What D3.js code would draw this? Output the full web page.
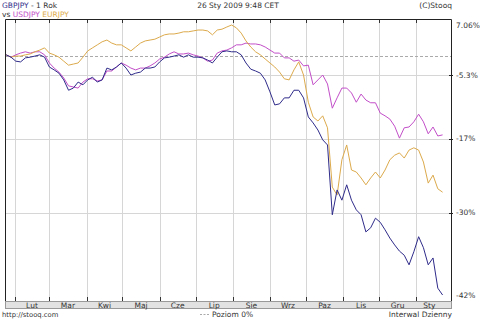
<!DOCTYPE html>
<html>
<head>
<meta charset="utf-8">
<script src="https://cdn.jsdelivr.net/npm/d3@7"></script>
<style>
  body { margin: 0; background: #fff; }
  text { font-family: "DejaVu Sans", sans-serif; font-size: 7.5px; fill: #333; }
</style>
</head>
<body>
<svg id="chart" width="480" height="319"></svg>
<script>
// sample dates (every 4 days)
const dates = [
  "2008-01-25","2008-01-29","2008-02-02","2008-02-06","2008-02-10","2008-02-14","2008-02-18","2008-02-22","2008-02-26",
  "2008-03-01","2008-03-05","2008-03-09","2008-03-13","2008-03-17","2008-03-21","2008-03-25","2008-03-29",
  "2008-04-02","2008-04-06","2008-04-10","2008-04-14","2008-04-18","2008-04-22","2008-04-26","2008-04-30",
  "2008-05-04","2008-05-08","2008-05-12","2008-05-16","2008-05-20","2008-05-24","2008-05-28",
  "2008-06-01","2008-06-05","2008-06-09","2008-06-13","2008-06-17","2008-06-21","2008-06-25","2008-06-29",
  "2008-07-03","2008-07-07","2008-07-11","2008-07-15","2008-07-19","2008-07-23","2008-07-27","2008-07-31",
  "2008-08-04","2008-08-08","2008-08-12","2008-08-16","2008-08-20","2008-08-24","2008-08-28",
  "2008-09-01","2008-09-05","2008-09-09","2008-09-13","2008-09-17","2008-09-21","2008-09-25","2008-09-29",
  "2008-10-03","2008-10-07","2008-10-11","2008-10-15","2008-10-19","2008-10-23","2008-10-27","2008-10-31",
  "2008-11-04","2008-11-08","2008-11-12","2008-11-16","2008-11-20","2008-11-24","2008-11-28",
  "2008-12-02","2008-12-06","2008-12-10","2008-12-14","2008-12-18","2008-12-22","2008-12-26","2008-12-30",
  "2009-01-03","2009-01-07","2009-01-11","2009-01-15","2009-01-19","2009-01-23"
];

// % change vs. first day
const gbpjpy = [
  0.2,-0.4,-1.5,-1.7,-0.6,-0.4,-0.1,0.2,-0.4,
  -3.1,-3.9,-4.8,-6.2,-8.1,-7.7,-6.6,-7.1,
  -6.2,-5.7,-6.6,-6.2,-3.4,-3.9,-3.1,-2.0,
  -3.4,-5.3,-4.8,-4.5,-3.4,-3.4,-3.1,
  -1.7,-0.6,-0.4,-0.1,0.2,-0.4,0.2,-0.4,
  -0.4,-0.6,-1.2,-2.0,-0.4,0.9,1.1,0.9,
  0.9,0.2,-2.0,-3.7,-4.2,-4.8,-6.2,
  -8.4,-10.8,-10.6,-9.5,-9.5,-8.1,-8.1,-9.5,
  -13.0,-14.1,-15.4,-17.2,-18.1,-30.3,-26.0,-27.8,
  -25.1,-27.8,-29.5,-30.3,-32.8,-32.2,-30.8,
  -31.4,-32.5,-33.7,-34.7,-35.6,-36.2,-37.6,-35.7,
  -33.5,-35.1,-37.6,-36.6,-41.0,-42.0
];
const usdjpy = [
  0.2,-0.4,0.2,0.6,0.9,0.6,0.9,0.9,0.2,
  -2.0,-3.4,-4.5,-5.85,-7.3,-7.5,-7.7,-6.6,
  -6.0,-6.0,-6.4,-6.2,-4.2,-4.2,-3.1,-2.0,
  -2.6,-3.4,-3.9,-3.4,-3.4,-2.8,-2.0,
  -0.9,-0.4,0.4,0.9,0.4,0.4,0.6,0.2,
  -0.1,-0.6,-1.5,-1.2,0.6,1.1,1.3,1.8,
  2.5,2.5,2.9,2.7,2.7,2.5,2.0,
  1.3,0.6,0.6,-0.6,-0.6,-1.5,-1.2,-2.8,
  -2.6,-7.1,-6.2,-5.3,-6.95,-11.4,-9.5,-7.7,
  -7.7,-8.6,-10.3,-8.8,-9.9,-10.4,-10.4,
  -12.3,-12.8,-13.4,-14.7,-16.9,-15.0,-14.85,-13.9,
  -12.5,-13.9,-16.1,-14.85,-16.5,-16.3
];
const eurjpy = [
  0.2,-0.4,-0.1,-0.1,0.2,0.4,0.9,1.3,1.8,
  0.6,0.2,-0.4,-1.5,-2.6,-2.3,-2.0,-0.4,
  1.1,1.8,2.5,3.2,3.6,2.9,2.5,2.5,
  1.8,1.1,2.0,2.9,3.4,3.6,3.8,
  4.3,4.8,5.0,5.0,5.2,5.5,5.5,5.7,
  5.9,5.9,5.7,4.8,5.9,6.1,6.6,7.06,
  6.4,5.2,3.4,2.0,0.9,0.2,-0.9,
  -2.0,-3.1,-4.5,-6.0,-6.2,-3.9,-1.7,-5.3,
  -10.3,-13.0,-13.75,-12.8,-15.0,-25.5,-26.9,-20.7,
  -18.1,-22.5,-22.85,-23.9,-25.1,-23.9,-22.85,
  -23.9,-22.5,-20.7,-19.9,-19.5,-20.4,-19.0,-18.6,
  -19.0,-21.1,-24.8,-23.4,-25.8,-26.4
];

const yTicks = [7.06, -5.3, -17, -30, -42];
const yGrid = [-5.3, -17, -30];
const monthLabels = ["Lut","Mar","Kwi","Maj","Cze","Lip","Sie","Wrz","Paz","Lis","Gru","Sty"];

const colors = { gbp: "#2f2b8a", usd: "#c24ec8", eur: "#dcaa4c" };

const parse = d3.timeParse("%Y-%m-%d");
const days = dates.map(parse);

const svg = d3.select("#chart");
const L = 5, R = 451, T = 19, B = 301;

const x = d3.scaleTime()
  .domain([new Date(2008, 0, 24), new Date(2009, 0, 30)])
  .range([L, R]);

// stooq's axis is not linear, pin it at the labelled levels
const y = d3.scaleLinear()
  .domain([7.06, 0, -5.3, -17, -30, -42])
  .range([25, 55.7, 75, 138.7, 212.7, 295]);

const months = d3.timeMonth.range(new Date(2008, 1, 1), new Date(2009, 0, 2));

// vertical grid
svg.append("g").selectAll("line").data(months).join("line")
  .attr("x1", d => Math.round(x(d)) + 0.5).attr("x2", d => Math.round(x(d)) + 0.5)
  .attr("y1", T).attr("y2", B)
  .attr("stroke", "#d6d6d6");

// horizontal grid
svg.append("g").selectAll("line").data(yGrid).join("line")
  .attr("x1", L).attr("x2", R)
  .attr("y1", d => Math.round(y(d)) + 0.5).attr("y2", d => Math.round(y(d)) + 0.5)
  .attr("stroke", "#d6d6d6");

// 0% level
svg.append("line")
  .attr("x1", L).attr("x2", R)
  .attr("y1", Math.round(y(0)) + 0.5).attr("y2", Math.round(y(0)) + 0.5)
  .attr("stroke", "#aaa").attr("stroke-dasharray", "3,2");

// month ticks top and bottom
svg.append("g").selectAll("line").data(months).join("line")
  .attr("x1", d => Math.round(x(d)) + 0.5).attr("x2", d => Math.round(x(d)) + 0.5)
  .attr("y1", T).attr("y2", T + 4).attr("stroke", "#333");
svg.append("g").selectAll("line").data(months).join("line")
  .attr("x1", d => Math.round(x(d)) + 0.5).attr("x2", d => Math.round(x(d)) + 0.5)
  .attr("y1", B - 4).attr("y2", B).attr("stroke", "#333");

// series
const line = d3.line().x((d, i) => x(days[i])).y(d => y(d));
[[usdjpy, colors.usd], [eurjpy, colors.eur], [gbpjpy, colors.gbp]].forEach(([s, c]) => {
  svg.append("path").datum(s)
    .attr("d", line)
    .attr("fill", "none")
    .attr("stroke", c)
    .attr("stroke-width", 1);
});

// frame
svg.append("path")
  .attr("d", `M${L + 0.5},${B} V${T + 0.5} H${R + 0.5} V${B + 7}`)
  .attr("fill", "none").attr("stroke", "#222");

// month band
svg.append("rect")
  .attr("x", L + 0.5).attr("y", B + 0.5).attr("width", R - L).attr("height", 7)
  .attr("fill", "#e2e2e2").attr("stroke", "#999");

const ends = months.concat([days[days.length - 1]]);
svg.append("g").selectAll("text").data(monthLabels).join("text")
  .attr("x", (d, i) => (x(ends[i]) + x(ends[i + 1])) / 2)
  .attr("y", B + 6.5)
  .attr("text-anchor", "middle")
  .text(d => d);

// right axis
svg.append("g").selectAll("line").data(yGrid).join("line")
  .attr("x1", R - 2).attr("x2", R + 2)
  .attr("y1", d => Math.round(y(d)) + 0.5).attr("y2", d => Math.round(y(d)) + 0.5)
  .attr("stroke", "#222");
svg.append("g").selectAll("text").data(yTicks).join("text")
  .attr("x", 456)
  .attr("y", d => d === 7.06 ? 28 : y(d) + 2.7)
  .text(d => (d === 7.06 ? d.toFixed(2) : d) + "%");

// header
const h1 = svg.append("text").attr("x", 2).attr("y", 8);
h1.append("tspan").attr("fill", colors.gbp).text("GBPJPY");
h1.append("tspan").text(" - 1 Rok");
const h2 = svg.append("text").attr("x", 2).attr("y", 16.5);
h2.append("tspan").text("vs ");
h2.append("tspan").attr("fill", colors.usd).text("USDJPY");
h2.append("tspan").attr("fill", colors.eur).text(" EURJPY");
svg.append("text").attr("x", 238).attr("y", 8).attr("text-anchor", "middle").text("26 Sty 2009 9:48 CET");
svg.append("text").attr("x", 452).attr("y", 8).attr("text-anchor", "end").text("(C)Stooq");

// footer
svg.append("text").attr("x", 2).attr("y", 317).style("font-size", "6.8px").text("http://stooq.com");
svg.append("line").attr("x1", 200).attr("x2", 210).attr("y1", 314.5).attr("y2", 314.5)
  .attr("stroke", "#aaa").attr("stroke-dasharray", "2,1.5");
svg.append("text").attr("x", 212).attr("y", 317).text("Poziom 0%");
svg.append("text").attr("x", 452).attr("y", 317).attr("text-anchor", "end").text("Interwal Dzienny");
</script>
</body>
</html>
